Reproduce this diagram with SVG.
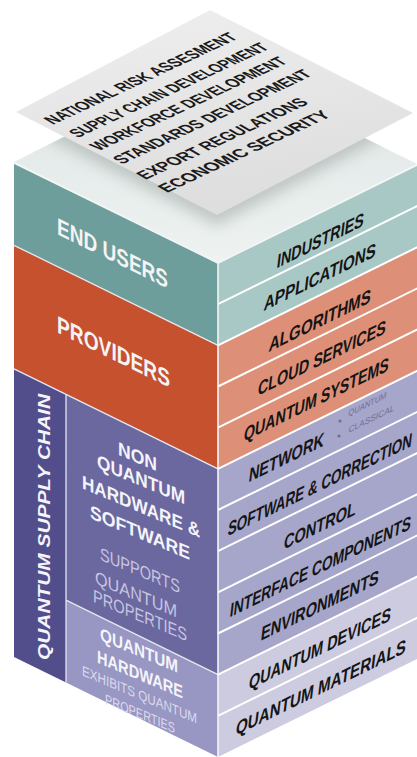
<svg xmlns="http://www.w3.org/2000/svg" width="417" height="757" viewBox="0 0 417 757">
<defs>
<style>
.rt{font-family:"Liberation Sans",Arial,sans-serif;font-weight:bold;font-size:20px;fill:#151515;text-anchor:middle}
.sm{font-family:"Liberation Sans",Arial,sans-serif;font-size:9px;fill:#6e6d9c;text-anchor:middle}
.st{font-family:"Liberation Sans",Arial,sans-serif;font-weight:bold;font-size:18px;fill:#1a1a1a}
.lt{font-family:"Liberation Sans",Arial,sans-serif;font-weight:bold;font-size:24px;fill:#f4f4f4;text-anchor:middle}
.it{font-family:"Liberation Sans",Arial,sans-serif;font-weight:bold;font-size:19px;fill:#f4f4fa;text-anchor:middle}
.vt{font-family:"Liberation Sans",Arial,sans-serif;font-weight:bold;font-style:italic;font-size:17px;fill:#f4f4fa;text-anchor:middle}
.lite{font-family:"Liberation Sans",Arial,sans-serif;font-size:18px;fill:#c7c5e1;text-anchor:middle}
.lite2{font-family:"Liberation Sans",Arial,sans-serif;font-size:14px;fill:#dcdbee;text-anchor:middle}
.sep{stroke:#ffffff;stroke-width:2;fill:none}
.sepl{stroke:#e6e6ee;stroke-width:1.3;fill:none}
</style>
<linearGradient id="sheetG" x1="0" y1="0" x2="0.3" y2="1">
<stop offset="0" stop-color="#efefef"/>
<stop offset="1" stop-color="#dedede"/>
</linearGradient>
<linearGradient id="topG" x1="0" y1="0" x2="0" y2="1">
<stop offset="0" stop-color="#dde4e2"/>
<stop offset="1" stop-color="#eef3f2"/>
</linearGradient>
<filter id="blur" x="-20%" y="-20%" width="140%" height="140%"><feGaussianBlur stdDeviation="7"/></filter>
<clipPath id="topClip"><polygon points="14,162 212,62 417,164 218,263"/></clipPath>
</defs>

<g id="top-face">
<polygon points="14,162 212,62 417,164 218,263" fill="url(#topG)"/>
<g clip-path="url(#topClip)">
<polygon points="22,124 210,26 405,126 217,226" fill="#8f9a98" opacity="0.45" filter="url(#blur)"/>
</g>
</g>

<g id="policy-sheet">
<polygon points="16,112 210,10 413,113 217,215" fill="url(#sheetG)"/>
<text class="st" transform="matrix(0.906 -0.423 0.86 0.51 53 125)" x="0" y="0" textLength="205" lengthAdjust="spacingAndGlyphs">NATIONAL RISK ASSESMENT</text>
<text class="st" transform="matrix(0.906 -0.423 0.86 0.51 78 138)" x="0" y="0" textLength="212" lengthAdjust="spacingAndGlyphs">SUPPLY CHAIN DEVELOPMENT</text>
<text class="st" transform="matrix(0.906 -0.423 0.86 0.51 99 151)" x="0" y="0" textLength="209" lengthAdjust="spacingAndGlyphs">WORKFORCE DEVELOPMENT</text>
<text class="st" transform="matrix(0.906 -0.423 0.86 0.51 122 164.5)" x="0" y="0" textLength="211" lengthAdjust="spacingAndGlyphs">STANDARDS DEVELOPMENT</text>
<text class="st" transform="matrix(0.906 -0.423 0.86 0.51 145.5 180)" x="0" y="0" textLength="181" lengthAdjust="spacingAndGlyphs">EXPORT REGULATIONS</text>
<text class="st" transform="matrix(0.906 -0.423 0.86 0.51 167 193)" x="0" y="0" textLength="182" lengthAdjust="spacingAndGlyphs">ECONOMIC SECURITY</text>
</g>

<g id="end-users">
<polygon points="14,163 218,263 218,345.3 14,245.3" fill="#6e9e9b"/>
<text class="lt" transform="matrix(1 0.49 0 1 112.5 253)" x="0" y="8.5" textLength="111" lengthAdjust="spacingAndGlyphs">END USERS</text>
</g>
<g id="providers">
<polygon points="14,245.3 218,345.3 218,468.8 14,368.8" fill="#c5512f"/>
<text class="lt" transform="matrix(1 0.49 0 1 113.5 351.5)" x="0" y="8.5" textLength="113" lengthAdjust="spacingAndGlyphs">PROVIDERS</text>
</g>
<g id="quantum-supply-chain">
<polygon points="14,368.8 66,394.3 66,682.5 14,657" fill="#524e8c"/>
<text class="vt" transform="translate(50 527) rotate(-90)" x="0" y="0" textLength="266" lengthAdjust="spacingAndGlyphs">QUANTUM SUPPLY CHAIN</text>
</g>
<g id="non-quantum">
<polygon points="66,394.3 218,468.8 218,674.7 66,600.2" fill="#6b68a0"/>
<text class="it" transform="matrix(1 0.42 0 1 137.5 456)" x="0" y="7" textLength="39" lengthAdjust="spacingAndGlyphs">NON</text>
<text class="it" transform="matrix(1 0.42 0 1 141 479)" x="0" y="7" textLength="88" lengthAdjust="spacingAndGlyphs">QUANTUM</text>
<text class="it" transform="matrix(1 0.42 0 1 141 506)" x="0" y="7" textLength="118" lengthAdjust="spacingAndGlyphs">HARDWARE &amp;</text>
<text class="it" transform="matrix(1 0.42 0 1 140 532)" x="0" y="7" textLength="100" lengthAdjust="spacingAndGlyphs">SOFTWARE</text>
<text class="lite" transform="matrix(1 0.42 0 1 140 570)" x="0" y="6.5" textLength="80" lengthAdjust="spacingAndGlyphs">SUPPORTS</text>
<text class="lite" transform="matrix(1 0.42 0 1 136 594)" x="0" y="6.5" textLength="82" lengthAdjust="spacingAndGlyphs">QUANTUM</text>
<text class="lite" transform="matrix(1 0.42 0 1 140 615)" x="0" y="6.5" textLength="94" lengthAdjust="spacingAndGlyphs">PROPERTIES</text>
</g>
<g id="quantum-hardware">
<polygon points="66,600.2 218,674.7 218,757 66,682.5" fill="#9896c2"/>
<text class="it" style="font-size:18px" transform="matrix(1 0.42 0 1 139 650)" x="0" y="6.5" textLength="78" lengthAdjust="spacingAndGlyphs">QUANTUM</text>
<text class="it" style="font-size:18px" transform="matrix(1 0.42 0 1 140 674)" x="0" y="6.5" textLength="86" lengthAdjust="spacingAndGlyphs">HARDWARE</text>
<text class="lite2" transform="matrix(1 0.42 0 1 139.5 694.5)" x="0" y="5" textLength="115" lengthAdjust="spacingAndGlyphs">EXHIBITS QUANTUM</text>
<text class="lite2" transform="matrix(1 0.42 0 1 140 713.5)" x="0" y="5" textLength="70" lengthAdjust="spacingAndGlyphs">PROPERTIES</text>
</g>

<g id="industries"><polygon points="218,263 418,164.5 418,205.7 218,304.2" fill="#a8c8c5"/>
<text class="rt" transform="matrix(1 -0.49 -0.12 1 320.5 240)" x="0" y="7.2" textLength="87" lengthAdjust="spacingAndGlyphs">INDUSTRIES</text></g>
<g id="applications"><polygon points="218,304.2 418,205.7 418,246.8 218,345.3" fill="#a8c8c5"/>
<text class="rt" transform="matrix(1 -0.49 -0.12 1 320 276.5)" x="0" y="7.2" textLength="112" lengthAdjust="spacingAndGlyphs">APPLICATIONS</text></g>
<g id="algorithms"><polygon points="218,345.3 418,246.8 418,288 218,386.5" fill="#de8f77"/>
<text class="rt" transform="matrix(1 -0.49 -0.12 1 320 320)" x="0" y="7.2" textLength="102" lengthAdjust="spacingAndGlyphs">ALGORITHMS</text></g>
<g id="cloud-services"><polygon points="218,386.5 418,288 418,329.2 218,427.7" fill="#de8f77"/>
<text class="rt" transform="matrix(1 -0.49 -0.12 1 322 357.5)" x="0" y="7.2" textLength="128" lengthAdjust="spacingAndGlyphs">CLOUD SERVICES</text></g>
<g id="quantum-systems"><polygon points="218,427.7 418,329.2 418,370.3 218,468.8" fill="#de8f77"/>
<text class="rt" transform="matrix(1 -0.49 -0.12 1 316.5 399)" x="0" y="7.2" textLength="145" lengthAdjust="spacingAndGlyphs">QUANTUM SYSTEMS</text></g>
<g id="network"><polygon points="218,468.8 418,370.3 418,411.5 218,510" fill="#a6a5ca"/>
<text class="rt" transform="matrix(1 -0.49 -0.12 1 286.5 457)" x="0" y="7.2" textLength="75" lengthAdjust="spacingAndGlyphs">NETWORK</text>
<circle cx="340" cy="421" r="1.6" fill="#6e6d9c"/>
<circle cx="339" cy="436" r="1.6" fill="#6e6d9c"/>
<text class="sm" transform="matrix(1 -0.49 -0.12 1 367.5 404)" x="0" y="3.2" textLength="38" lengthAdjust="spacingAndGlyphs">QUANTUM</text>
<text class="sm" transform="matrix(1 -0.49 -0.12 1 371.5 418.5)" x="0" y="3.2" textLength="46" lengthAdjust="spacingAndGlyphs">CLASSICAL</text></g>
<g id="software-correction"><polygon points="218,510 418,411.5 418,452.7 218,551.2" fill="#a6a5ca"/>
<text class="rt" transform="matrix(1 -0.49 -0.12 1 320 484)" x="0" y="7.2" textLength="184" lengthAdjust="spacingAndGlyphs">SOFTWARE &amp; CORRECTION</text></g>
<g id="control"><polygon points="218,551.2 418,452.7 418,493.8 218,592.3" fill="#a6a5ca"/>
<text class="rt" transform="matrix(1 -0.49 -0.12 1 320 525)" x="0" y="7.2" textLength="72" lengthAdjust="spacingAndGlyphs">CONTROL</text></g>
<g id="interface-components"><polygon points="218,592.3 418,493.8 418,535 218,633.5" fill="#a6a5ca"/>
<text class="rt" transform="matrix(1 -0.49 -0.12 1 320.5 566)" x="0" y="7.2" textLength="181" lengthAdjust="spacingAndGlyphs">INTERFACE COMPONENTS</text></g>
<g id="environments"><polygon points="218,633.5 418,535 418,576.2 218,674.7" fill="#a6a5ca"/>
<text class="rt" transform="matrix(1 -0.49 -0.12 1 320 605)" x="0" y="7.2" textLength="118" lengthAdjust="spacingAndGlyphs">ENVIRONMENTS</text></g>
<g id="quantum-devices"><polygon points="218,674.7 418,576.2 418,617.3 218,715.8" fill="#cccbe0"/>
<text class="rt" transform="matrix(1 -0.49 -0.12 1 320 648)" x="0" y="7.2" textLength="142" lengthAdjust="spacingAndGlyphs">QUANTUM DEVICES</text></g>
<g id="quantum-materials"><polygon points="218,715.8 418,617.3 418,658.5 218,757" fill="#cccbe0"/>
<text class="rt" transform="matrix(1 -0.49 -0.12 1 321 687)" x="0" y="7.2" textLength="170" lengthAdjust="spacingAndGlyphs">QUANTUM MATERIALS</text></g>

<g id="dividers">
<path class="sep" d="M218,304.2 L418,205.7 M218,345.3 L418,246.8 M218,386.5 L418,288 M218,427.7 L418,329.2 M218,468.8 L418,370.3 M218,510 L418,411.5 M218,551.2 L418,452.7 M218,592.3 L418,493.8 M218,633.5 L418,535 M218,674.7 L418,576.2 M218,715.8 L418,617.3"/>
<path class="sepl" d="M14,245.3 L218,345.3 M14,368.8 L218,468.8 M66,600.2 L218,674.7 M66,394.3 L66,682.5"/>
<path stroke="#f4f6f6" stroke-width="1.6" fill="none" d="M14,163 L218,263 L418,164.5 M218,263 L218,757"/>
</g>
</svg>
